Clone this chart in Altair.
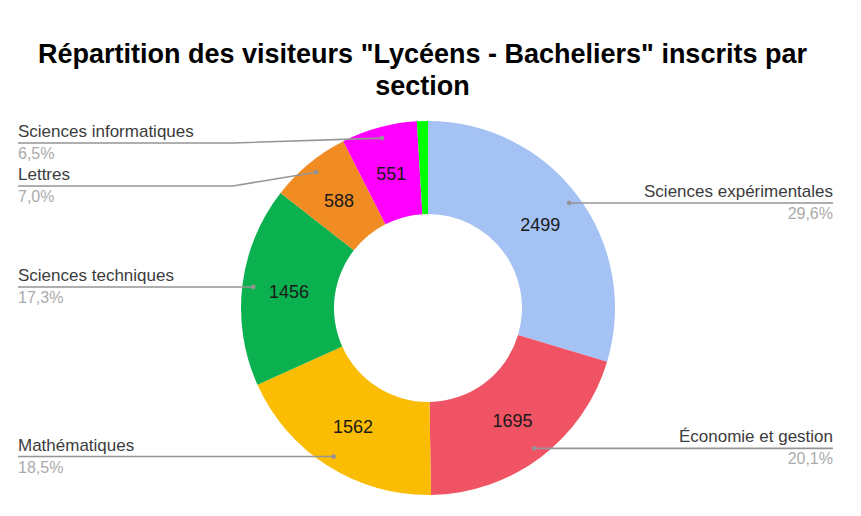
import math
import altair as alt
import pandas as pd

# ---- data ----
labels = ["Sciences expérimentales", "Économie et gestion", "Mathématiques",
          "Sciences techniques", "Lettres", "Sciences informatiques", "Autres"]
values = [2499, 1695, 1562, 1456, 588, 551, 80]
colors = ["#a4c2f4", "#ef5364", "#fbbc04", "#0bb04f", "#f08c22", "#ff00ff", "#00ff00"]
title_lines = ['Répartition des visiteurs "Lycéens - Bacheliers" inscrits par', "section"]

# ---- layout constants (plot-area pixels) ----
W, H = 845, 400
CX, CY = 420, 200
R_OUT, R_IN, R_VAL, R_DOT = 187, 94, 140, 176
ELBOW = 195
LEFT_END, RIGHT_END = 10, 825
MIN_GAP, TOP_MIN = 43, 35

total = sum(values)
rows = []
cum = 0.0
for i, (lab, v) in enumerate(zip(labels, values)):
    frac = v / total
    mid = cum + frac / 2
    cum += frac
    show = frac >= 0.03
    rows.append(dict(label=lab, value=v, idx=i, frac=frac, mid=mid, show=show,
                     vtext=str(v) if show else "",
                     pct=f"{frac*100:.1f}".replace(".", ",") + "%"))
slices = pd.DataFrame(rows)

# leader-line geometry derived from the cumulative shares
lab_rows = []
for r in rows:
    if not r["show"]:
        continue
    a = 2 * math.pi * r["mid"]
    dx, dy = R_DOT * math.sin(a), -R_DOT * math.cos(a)
    side = "right" if dx > 0 else "left"
    lab_rows.append(dict(label=r["label"], pct=r["pct"], side=side,
                         dotx=CX + dx, doty=CY + dy))
# simple collision avoidance per side
for side in ("left", "right"):
    items = sorted([l for l in lab_rows if l["side"] == side], key=lambda l: l["doty"])
    prev = None
    for l in items:
        y = max(l["doty"], TOP_MIN)
        if prev is not None:
            y = max(y, prev + MIN_GAP)
        l["ly"] = y
        prev = y
for l in lab_rows:
    if l["side"] == "left":
        l["elbx"] = min(l["dotx"], CX - ELBOW)
        l["endx"] = LEFT_END
    else:
        l["elbx"] = max(l["dotx"], CX + ELBOW)
        l["endx"] = RIGHT_END
labs = pd.DataFrame(lab_rows)

pts = []
for l in lab_rows:
    pts.append(dict(label=l["label"], k=0, x=l["dotx"], y=l["doty"]))
    pts.append(dict(label=l["label"], k=1, x=l["elbx"], y=l["ly"]))
    pts.append(dict(label=l["label"], k=2, x=l["endx"], y=l["ly"]))
lines = pd.DataFrame(pts)

FONT = "Liberation Sans"

base = alt.Chart(slices).encode(
    theta=alt.Theta("value:Q", stack=True),
    order=alt.Order("idx:Q"),
    x=alt.value(CX), y=alt.value(CY),
)
arcs = base.mark_arc(outerRadius=R_OUT, innerRadius=R_IN).encode(
    color=alt.Color("label:N", scale=alt.Scale(domain=labels, range=colors), legend=None)
)
vals = base.mark_text(radius=R_VAL, fontSize=18, font=FONT, color="#1a1a1a", dy=2).encode(
    text="vtext:N"
)

X = alt.X("x:Q", scale=None, axis=None)
Y = alt.Y("y:Q", scale=None, axis=None)
leader = alt.Chart(lines).mark_line(color="#959595", strokeWidth=1.6).encode(
    x=X, y=Y, detail="label:N", order="k:Q"
)
dots = alt.Chart(labs).mark_circle(size=22, color="#959595", opacity=1).encode(
    x=alt.X("dotx:Q", scale=None, axis=None), y=alt.Y("doty:Q", scale=None, axis=None)
)

def side_text(side, field, dy, size, color):
    align = "left" if side == "left" else "right"
    return alt.Chart(labs[labs.side == side]).mark_text(
        align=align, baseline="alphabetic", dy=dy, fontSize=size, font=FONT, color=color
    ).encode(
        x=alt.X("endx:Q", scale=None, axis=None),
        y=alt.Y("ly:Q", scale=None, axis=None),
        text=f"{field}:N",
    )

texts = [
    side_text("left", "label", -6, 17, "#3c3c3c"),
    side_text("right", "label", -6, 17, "#3c3c3c"),
    side_text("left", "pct", 16, 16, "#ababab"),
    side_text("right", "pct", 16, 16, "#ababab"),
]

chart = alt.layer(arcs, vals, leader, dots, *texts).properties(
    width=W, height=H,
    title=alt.Title(title_lines, fontSize=27, font=FONT, fontWeight="bold",
                    color="#000000", anchor="middle", lineHeight=32, offset=7, dx=-8),
    autosize=alt.AutoSizeParams(type="none"),
    padding={"left": 0, "top": 100, "right": 0, "bottom": 0},
    background="white",
).configure_view(stroke=None)

chart.save("out.html", embed_options={"renderer": "svg", "actions": False})
